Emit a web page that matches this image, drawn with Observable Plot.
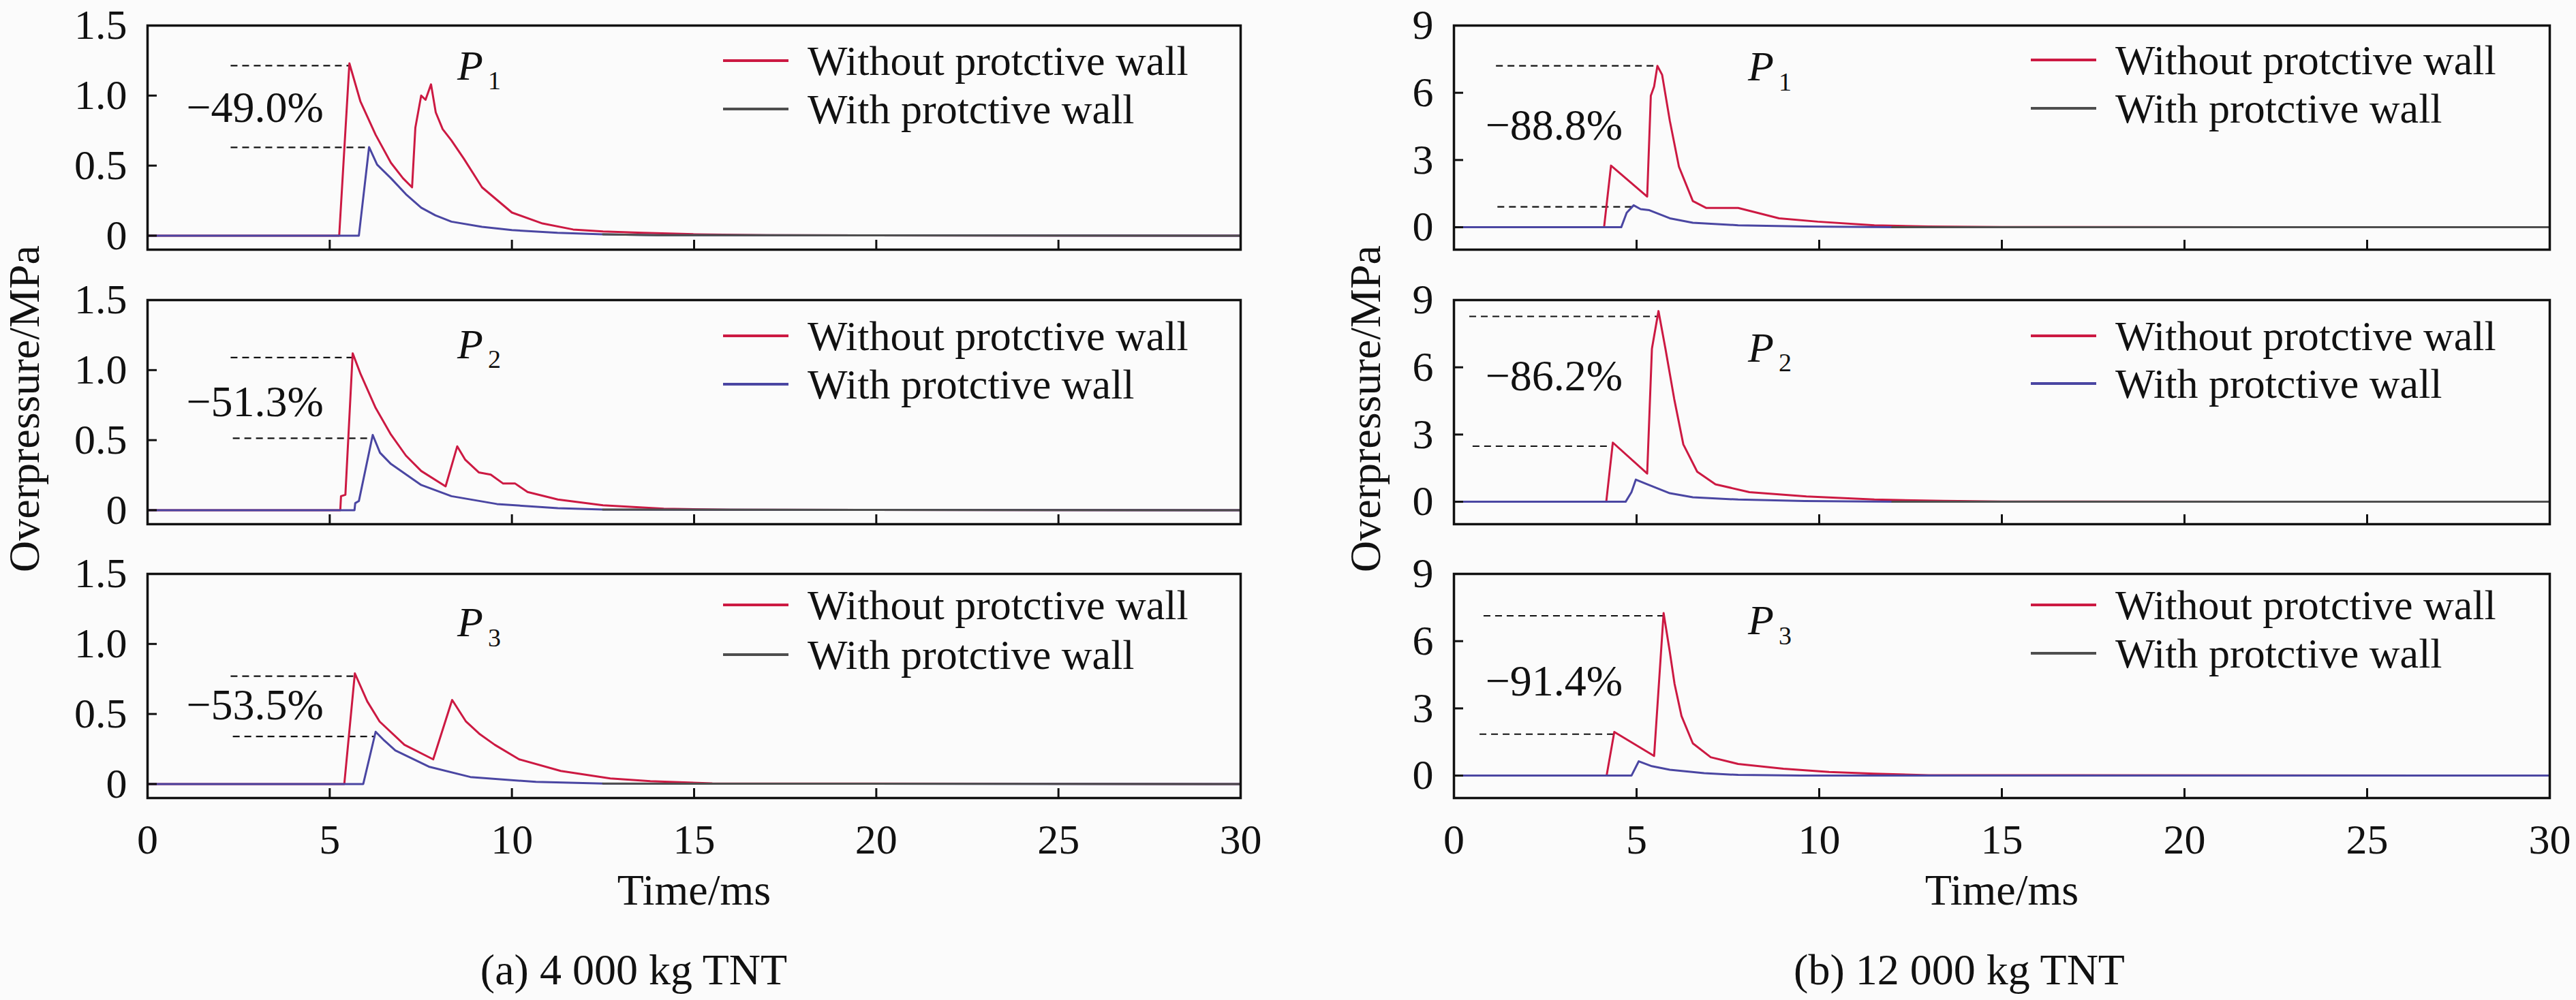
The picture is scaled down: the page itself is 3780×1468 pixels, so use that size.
<!DOCTYPE html>
<html>
<head>
<meta charset="utf-8">
<script src="https://cdn.jsdelivr.net/npm/d3@7"></script>
<script src="https://cdn.jsdelivr.net/npm/@observablehq/plot@0.6"></script>
<style>
  html, body { margin: 0; padding: 0; background: #fbfbfb; }
  #root { position: relative; width: 3780px; height: 1468px; overflow: hidden;
          font-family: "Liberation Serif", "Times New Roman", serif; color: #111; }
  .plot { position: absolute; }
  .plot text { font-family: "Liberation Serif", "Times New Roman", serif; }
  .row { position: absolute; display: flex; align-items: center; white-space: nowrap;
         transform: translateY(-50%); font-size: 62px; line-height: 1; }
  .swatch { display: inline-block; width: 96px; height: 4px; margin-right: 28px; }
  .ylab { position: absolute; white-space: nowrap; font-size: 64px; line-height: 1;
          transform: translate(-50%, -50%) rotate(-90deg); }
  .cap { position: absolute; white-space: nowrap; font-size: 64px; line-height: 1;
         transform: translate(-50%, -50%); }
</style>
</head>
<body>
<div id="root"></div>
<script>
// ---------------- data ----------------
const timeTicks = [0, 5, 10, 15, 20, 25, 30];
const ticksA = [0, 0.5, 1.0, 1.5];
const ticksB = [0, 3, 6, 9];
const seriesNames = ["Without protctive wall", "With protctive wall"];
const captions = ["(a) 4 000 kg TNT", "(b) 12 000 kg TNT"];
const axisTitleY = "Overpressure/MPa";
const axisTitleX = "Time/ms";

// [time ms, overpressure MPa]
const a1Without = [[0,0],[5.26,0],[5.54,1.23],[5.84,0.96],[6.26,0.72],[6.68,0.52],[7.01,0.41],[7.26,0.345],[7.35,0.77],[7.51,1.0],[7.63,0.97],[7.78,1.08],[7.91,0.88],[8.10,0.76],[8.34,0.68],[8.68,0.55],[9.18,0.345],[10.0,0.165],[10.84,0.087],[11.68,0.044],[12.5,0.03],[13.6,0.02],[15,0.01],[17,0.003],[30,0]];
const a1With = [[0,0],[5.80,0],[6.08,0.632],[6.30,0.507],[6.68,0.41],[7.09,0.296],[7.51,0.2],[7.9,0.145],[8.34,0.10],[9.18,0.063],[10.0,0.04],[11.25,0.02],[12.5,0.01],[14,0.003],[30,0]];
const a2Without = [[0,0],[5.29,0],[5.31,0.10],[5.43,0.11],[5.63,1.12],[5.85,0.97],[6.26,0.73],[6.68,0.54],[7.09,0.39],[7.51,0.28],[8.18,0.17],[8.50,0.456],[8.72,0.36],[9.09,0.27],[9.42,0.254],[9.76,0.19],[10.09,0.19],[10.43,0.13],[11.26,0.076],[12.5,0.035],[14.17,0.011],[16,0.003],[30,0]];
const a2With = [[0,0],[5.68,0],[5.70,0.05],[5.80,0.065],[6.18,0.537],[6.38,0.41],[6.68,0.33],[7.51,0.18],[8.34,0.10],[9.59,0.044],[11.26,0.014],[12.5,0.004],[30,0]];
const a3Without = [[0,0],[5.40,0],[5.69,0.79],[6.03,0.59],[6.37,0.446],[7.05,0.28],[7.84,0.176],[8.36,0.60],[8.74,0.446],[9.10,0.36],[9.53,0.28],[10.2,0.176],[11.34,0.093],[12.7,0.04],[13.8,0.02],[15.5,0.005],[30,0]];
const a3With = [[0,0],[5.92,0],[6.26,0.373],[6.50,0.31],[6.80,0.24],[7.72,0.124],[8.86,0.05],[10.66,0.015],[12.5,0.003],[30,0]];
const b1Without = [[0,0],[4.11,0],[4.30,2.75],[5.29,1.37],[5.39,5.87],[5.48,6.28],[5.57,7.2],[5.70,6.8],[5.91,4.75],[6.16,2.70],[6.54,1.17],[6.91,0.86],[7.78,0.86],[8.15,0.71],[8.90,0.40],[9.96,0.25],[11.51,0.09],[13,0.03],[15,0.01],[30,0]];
const b1With = [[0,0],[4.58,0],[4.73,0.65],[4.92,0.98],[5.11,0.81],[5.35,0.76],[5.91,0.40],[6.54,0.20],[7.78,0.09],[9.6,0.03],[12,0.005],[30,0]];
const b2Without = [[0,0],[4.17,0],[4.35,2.64],[5.29,1.26],[5.42,6.83],[5.60,8.51],[5.79,6.83],[6.03,4.59],[6.28,2.56],[6.66,1.34],[7.16,0.78],[8.09,0.43],[9.65,0.24],[11.51,0.10],[13.4,0.04],[15,0.01],[30,0]];
const b2With = [[0,0],[4.70,0],[4.86,0.43],[4.98,0.99],[5.29,0.78],[5.91,0.38],[6.54,0.20],[7.78,0.10],[9.6,0.03],[12,0.005],[30,0]];
const b3Without = [[0,0],[4.18,0],[4.39,1.95],[5.48,0.875],[5.74,7.25],[5.91,5.52],[6.04,4.09],[6.23,2.66],[6.54,1.44],[7.03,0.82],[7.78,0.52],[9.02,0.31],[10.27,0.16],[11.5,0.09],[13,0.02],[30,0]];
const b3With = [[0,0],[4.86,0],[5.06,0.64],[5.42,0.42],[5.91,0.26],[6.85,0.11],[7.78,0.03],[9.5,0.005],[30,0]];

// dashed reference lines: [overpressure, t start, t end]
const a1Dash = [[1.214,2.29,5.54],[0.63,2.29,6.08]];
const a2Dash = [[1.09,2.29,5.63],[0.513,2.35,6.18]];
const a3Dash = [[0.77,2.29,5.69],[0.34,2.35,6.26]];
const b1Dash = [[7.2,1.16,5.57],[0.91,1.2,4.92]];
const b2Dash = [[8.27,0.43,5.6],[2.48,0.52,4.35]];
const b3Dash = [[7.13,0.82,5.74],[1.85,0.71,4.39]];

// reduction notes: [text, t, overpressure]
const a1Note = ["−49.0%", 2.95, 0.91];
const a2Note = ["−51.3%", 2.95, 0.77];
const a3Note = ["−53.5%", 2.95, 0.56];
const b1Note = ["−88.8%", 2.74, 4.54];
const b2Note = ["−86.2%", 2.74, 5.6];
const b3Note = ["−91.4%", 2.74, 4.21];

// gauge labels: [subscript, t, overpressure]
const a1Gauge = ["1", 8.5, 1.21];
const a2Gauge = ["2", 8.5, 1.18];
const a3Gauge = ["3", 8.5, 1.15];
const b1Gauge = ["1", 8.05, 7.15];
const b2Gauge = ["2", 8.05, 6.85];
const b3Gauge = ["3", 8.05, 6.9];

// ---------------- styles / layout ----------------
const RED = "#cc1942";
const BLUE = "#4a46a2";
const GRAY = "#4e4e4e";
const INK = "#111";
const FONT = "'Liberation Serif', 'Times New Roman', serif";

const rowTops = [37, 440, 842];
const panelH = 329;
const cols = [
  {svgLeft: 0, width: 1880, ml: 216, mr: 60, domain: [-0.1, 1.5], ticks: ticksA,
   fmt: d => d === 0 ? "0" : d3.format(".1f")(d), tail: 12.5,
   legendLeft: 1061, ylabX: 36, capX: 930},
  {svgLeft: 1880, width: 1900, ml: 253, mr: 39, domain: [-1, 9], ticks: ticksB,
   fmt: d => String(d), tail: 10,
   legendLeft: 2980, ylabX: 2004, capX: 2875}
];
const panels = [
  {c: 0, r: 0, without: a1Without, with: a1With, dash: a1Dash, note: a1Note, gauge: a1Gauge, leg2: GRAY, legY: [52, 123]},
  {c: 0, r: 1, without: a2Without, with: a2With, dash: a2Dash, note: a2Note, gauge: a2Gauge, leg2: BLUE, legY: [53, 124]},
  {c: 0, r: 2, without: a3Without, with: a3With, dash: a3Dash, note: a3Note, gauge: a3Gauge, leg2: GRAY, legY: [46, 119]},
  {c: 1, r: 0, without: b1Without, with: b1With, dash: b1Dash, note: b1Note, gauge: b1Gauge, leg2: GRAY, legY: [51, 122]},
  {c: 1, r: 1, without: b2Without, with: b2With, dash: b2Dash, note: b2Note, gauge: b2Gauge, leg2: BLUE, legY: [53, 123]},
  {c: 1, r: 2, without: b3Without, with: b3With, dash: b3Dash, note: b3Note, gauge: b3Gauge, leg2: GRAY, legY: [46, 117]}
];

const root = document.getElementById("root");

for (const p of panels) {
  const col = cols[p.c];
  const bottom = p.r === 2;
  const mt = 37, mb = bottom ? 210 : 10;
  const chart = Plot.plot({
    width: col.width,
    height: mt + panelH + mb,
    marginLeft: col.ml, marginRight: col.mr, marginTop: mt, marginBottom: mb,
    style: {fontFamily: FONT, fontSize: "62px", background: "transparent", color: INK, overflow: "visible"},
    x: {domain: [0, 30]},
    y: {domain: col.domain},
    marks: [
      Plot.ruleY(p.dash, {y: d => d[0], x1: d => d[1], x2: d => d[2], stroke: INK, strokeWidth: 2.2, strokeDasharray: "10,7"}),
      Plot.line(p.without, {x: d => d[0], y: d => d[1], stroke: RED, strokeWidth: 3, strokeLinejoin: "round"}),
      Plot.line(p.with, {x: d => d[0], y: d => d[1], stroke: BLUE, strokeWidth: 3, strokeLinejoin: "round"}),
      Plot.line(p.with, {filter: d => d[0] >= col.tail, x: d => d[0], y: d => d[1], stroke: GRAY, strokeWidth: 3}),
      Plot.frame({stroke: INK, strokeWidth: 3.5}),
      Plot.axisX(timeTicks, {tickSize: -14, tickPadding: 51, strokeWidth: 3, fontSize: 62, fontFamily: FONT,
        tickFormat: bottom ? (d => String(d)) : (() => "")}),
      Plot.axisY(col.ticks, {tickSize: -14, tickPadding: 44, strokeWidth: 3, fontSize: 62, fontFamily: FONT, tickFormat: col.fmt}),
      Plot.text([p.note], {x: d => d[1], y: d => d[2], text: d => d[0], fontSize: 64, fontFamily: FONT, textAnchor: "middle"}),
      Plot.text([p.gauge], {x: d => d[1], y: d => d[2], text: () => "P", fontSize: 62, fontFamily: FONT, fontStyle: "italic", textAnchor: "start"}),
      Plot.text([p.gauge], {x: d => d[1], y: d => d[2], text: d => d[0], fontSize: 38, fontFamily: FONT, textAnchor: "start", dx: 45, dy: 22}),
      ...(bottom ? [Plot.text([axisTitleX], {frameAnchor: "bottom", text: d => d, fontSize: 64, fontFamily: FONT, dy: 156})] : [])
    ]
  });
  chart.classList.add("plot");
  chart.style.left = col.svgLeft + "px";
  chart.style.top = (rowTops[p.r] - mt) + "px";
  root.appendChild(chart);

  // legend
  const colors = [RED, p.leg2];
  seriesNames.forEach((name, i) => {
    const row = document.createElement("div");
    row.className = "row";
    row.style.left = col.legendLeft + "px";
    row.style.top = (rowTops[p.r] + p.legY[i]) + "px";
    const sw = document.createElement("span");
    sw.className = "swatch";
    sw.style.background = colors[i];
    const tx = document.createElement("span");
    tx.textContent = name;
    row.appendChild(sw); row.appendChild(tx);
    root.appendChild(row);
  });
}

cols.forEach((col, i) => {
  const yl = document.createElement("div");
  yl.className = "ylab";
  yl.textContent = axisTitleY;
  yl.style.left = col.ylabX + "px";
  yl.style.top = "600px";
  root.appendChild(yl);
  const cap = document.createElement("div");
  cap.className = "cap";
  cap.textContent = captions[i];
  cap.style.left = col.capX + "px";
  cap.style.top = "1424px";
  root.appendChild(cap);
});
</script>
</body>
</html>
